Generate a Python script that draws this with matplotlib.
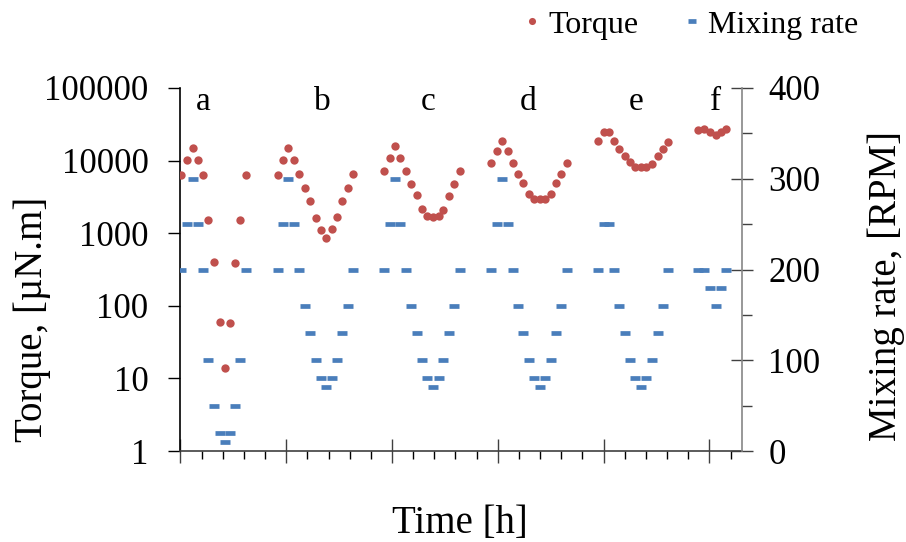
import matplotlib
matplotlib.use("Agg")
import matplotlib.pyplot as plt
from matplotlib.ticker import FixedLocator, MultipleLocator, LogLocator, NullFormatter, FuncFormatter

plt.rcParams['font.family'] = ['Liberation Serif', 'DejaVu Serif']

# time [h] of each measurement, one list per run a-f
time_a = [0.01, 0.065, 0.115, 0.165, 0.215, 0.265, 0.32, 0.37, 0.42, 0.47, 0.52, 0.565, 0.62]
time_b = [0.92, 0.97, 1.02, 1.075, 1.125, 1.175, 1.225, 1.28, 1.33, 1.375, 1.43, 1.48, 1.53, 1.585, 1.63]
time_c = [1.925, 1.98, 2.03, 2.08, 2.13, 2.18, 2.24, 2.285, 2.335, 2.385, 2.44, 2.485, 2.54, 2.585, 2.645]
time_d = [2.94, 2.99, 3.04, 3.095, 3.14, 3.195, 3.24, 3.295, 3.345, 3.40, 3.45, 3.50, 3.55, 3.60, 3.65]
time_e = [3.95, 4.0, 4.05, 4.10, 4.15, 4.20, 4.25, 4.30, 4.355, 4.405, 4.455, 4.51, 4.56, 4.605]
time_f = [4.895, 4.95, 5.005, 5.06, 5.11, 5.155]

# torque [uN.m]
torque_a = [6430, 10100, 14700, 10100, 6430, 1540, 399, 60, 14, 58, 386, 1540, 6430]
torque_b = [6430, 10100, 14700, 10100, 6620, 4200, 2750, 1640, 1090, 857, 1140, 1670, 2750, 4200, 6620]
torque_c = [7140, 10900, 15800, 10900, 7140, 4720, 3330, 2180, 1720, 1670, 1720, 2110, 3220, 4720, 7140]
torque_d = [9400, 13500, 18500, 13500, 9400, 6620, 4980, 3510, 2930, 2930, 2930, 3510, 4980, 6620, 9400]
torque_e = [18700, 24900, 24900, 18500, 14400, 11500, 9600, 8190, 8190, 8190, 9100, 11500, 14400, 18300]
torque_f = [26300, 26900, 24800, 22200, 24400, 26900]

# mixing rate [RPM]
rate_a = [200, 250, 300, 250, 200, 100, 50, 20, 10, 20, 50, 100, 200]
rate_b = [200, 250, 300, 250, 200, 160, 130, 100, 80, 70, 80, 100, 130, 160, 200]
rate_c = [200, 250, 300, 250, 200, 160, 130, 100, 80, 70, 80, 100, 130, 160, 200]
rate_d = [200, 250, 300, 250, 200, 160, 130, 100, 80, 70, 80, 100, 130, 160, 200]
rate_e = [200, 250, 250, 200, 160, 130, 100, 80, 70, 80, 100, 130, 160, 200]
rate_f = [200, 200, 180, 160, 180, 200]

run_labels = ['a', 'b', 'c', 'd', 'e', 'f']
run_label_x = [0.217, 1.343, 2.34, 3.288, 4.308, 5.062]

time = time_a + time_b + time_c + time_d + time_e + time_f
torque = torque_a + torque_b + torque_c + torque_d + torque_e + torque_f
rate = rate_a + rate_b + rate_c + rate_d + rate_e + rate_f

red = '#C0504D'
blue = '#4A7EBB'

fig = plt.figure(figsize=(9.06, 5.42), dpi=100)
ax = fig.add_axes([180.4/906, 1-451/542, (742-180.4)/906, (451-88)/542])
ax2 = ax.twinx()

p1, = ax.plot(time, torque, 'o', color=red, markersize=6, markeredgewidth=0, label='Torque', zorder=3)
p2, = ax2.plot(time, rate, '_', color=blue, markersize=7.5, markeredgewidth=3.4, label='Mixing rate')

ax.set_yscale('log')
ax.set_ylim(1, 100000)
ax.set_xlim(0, (742-180.4)/105.8)
ax2.set_ylim(0, 400)

ax.yaxis.set_major_locator(FixedLocator([1, 10, 100, 1000, 10000, 100000]))
ax.yaxis.set_minor_locator(LogLocator(base=10, subs=range(2, 10)))
ax.yaxis.set_major_formatter(FuncFormatter(lambda v, p: '%d' % v))
ax.yaxis.set_minor_formatter(NullFormatter())
ax.xaxis.set_major_locator(MultipleLocator(1))
ax.xaxis.set_minor_locator(MultipleLocator(0.2))
ax.xaxis.set_major_formatter(NullFormatter())
ax2.yaxis.set_major_locator(MultipleLocator(100))
ax2.yaxis.set_minor_locator(MultipleLocator(50))

for s in ['top', 'right']:
    ax.spines[s].set_visible(False)
for s in ['top', 'left', 'bottom']:
    ax2.spines[s].set_visible(False)
ax2.spines['right'].set_color('#868686')
ax2.spines['right'].set_linewidth(1.2)
ax.spines['left'].set_linewidth(1.2)
ax.spines['bottom'].set_linewidth(1.2)
ax.spines['bottom'].set_color('#404040')

ax.tick_params(axis='y', which='major', direction='out', length=9, width=1, labelsize=25, pad=14)
ax.tick_params(axis='y', which='minor', direction='out', length=7, width=1)
ax.tick_params(axis='x', which='major', direction='inout', length=17, width=1, color='#404040')
ax.tick_params(axis='x', which='minor', direction='out', length=6, width=1)
ax2.tick_params(axis='y', which='major', direction='inout', length=16, width=1,
                color='#404040', labelsize=25, pad=11)
ax2.tick_params(axis='y', which='minor', direction='out', length=7, width=1, color='#404040')

for lab, xl in zip(run_labels, run_label_x):
    ax.text(xl, 10**4.696, lab, fontsize=24, ha='center', va='baseline')

fig.text(41.7/906, 1-319/542, 'Torque, [µN.m]', fontsize=28, rotation=90,
         rotation_mode='anchor', ha='center', va='baseline')
fig.text(896/906, 1-286/542, 'Mixing rate, [RPM]', fontsize=28, rotation=90,
         rotation_mode='anchor', ha='center', va='baseline')
fig.text(460/906, 1-533/542, 'Time [h]', fontsize=28, ha='center', va='baseline')

fig.legend(handles=[p1, p2], loc='center left', bbox_to_anchor=(522/906, 1-25/542),
           ncol=2, frameon=False, fontsize=23, handlelength=0.6, handletextpad=0.22,
           columnspacing=1.37, borderpad=0, borderaxespad=0, markerscale=0.85)

fig.savefig('out.png', dpi=100)
